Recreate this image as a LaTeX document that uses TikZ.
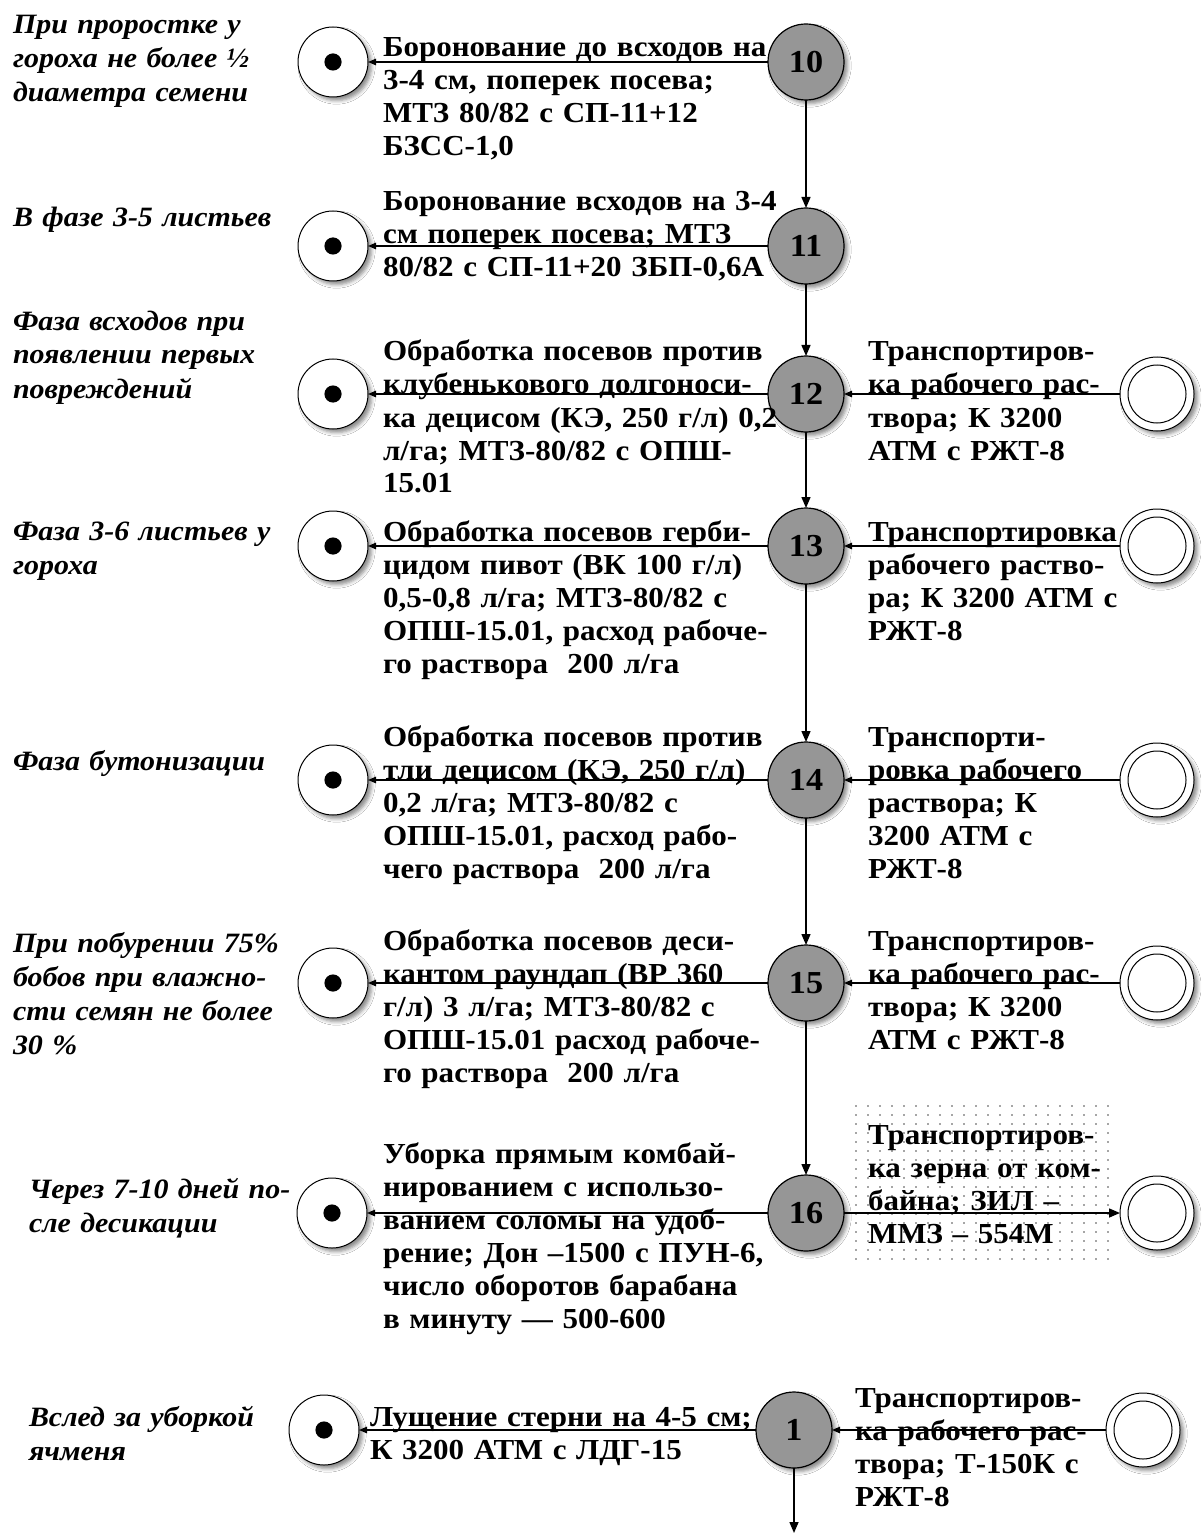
\documentclass[tikz,border=0pt]{standalone}
\usepackage{fontspec}
\setmainfont{Liberation Serif}[FakeStretch=1.07]
\usetikzlibrary{arrows.meta,shadows.blur}
\definecolor{stagegrey}{RGB}{150,150,150}
\newcommand\tasktext{\bfseries\fontsize{14.5}{16.5}\selectfont\spaceskip=2.6pt\relax}
\newcommand\condtext{\bfseries\itshape\fontsize{14}{17}\selectfont\spaceskip=2.8pt\relax}
\begin{document}
\begin{tikzpicture}[x=0.5pt,y=-0.5pt,
  every node/.style={inner sep=0pt,outer sep=0pt},
  softshadow/.style={blur shadow={shadow xshift=1.8pt,shadow yshift=-1.8pt,shadow blur radius=1.8pt,shadow opacity=45}},
  stage/.style={circle,draw=black,line width=0.6pt,fill=stagegrey,minimum size=38pt,softshadow,
    font=\bfseries\fontsize{16}{16}\selectfont},
  sink/.style={circle,draw=black,line width=0.5pt,fill=white,minimum size=35pt,softshadow,
    path picture={\fill[black] (path picture bounding box.center) circle (4.3pt);}},
  source/.style={circle,draw=black,line width=0.5pt,fill=white,minimum size=37pt,softshadow,
    path picture={\draw[line width=0.5pt] (path picture bounding box.center) circle (14.5pt);}},
  task/.style={anchor=base west,text width=260pt,align=left,font=\tasktext},
  cond/.style={anchor=base west,text width=260pt,align=left,font=\condtext},
  flow/.style={line width=0.7pt,-{Triangle[length=5.5pt,width=4.5pt]}},
  back/.style={line width=0.7pt,-{Triangle[length=4pt,width=3.2pt]}},
]
\fill[white] (0,0) rectangle (1201,1535);
\useasboundingbox (0,0) rectangle (1201,1535);

% dotted background behind the grain transport note
\foreach \i in {0,...,21}
  \foreach \j in {0,...,17}
    \fill[black!70] ({856+\i*12},{1106+\j*9}) circle (0.45pt);

% stage circles on the main line
\node[stage] (g10) at (806,62)   {10};
\node[stage] (g11) at (806,246)  {11};
\node[stage] (g12) at (806,394)  {12};
\node[stage] (g13) at (806,546)  {13};
\node[stage] (g14) at (806,780)  {14};
\node[stage] (g15) at (806,983)  {15};
\node[stage] (g16) at (806,1213) {16};
\node[stage] (g1)  at (794,1430) {1};
\coordinate (gend) at (794,1533);

% finished-operation circles on the left
\node[sink] (w10) at (333,62)   {};
\node[sink] (w11) at (333,246)  {};
\node[sink] (w12) at (333,394)  {};
\node[sink] (w13) at (333,546)  {};
\node[sink] (w14) at (333,780)  {};
\node[sink] (w15) at (333,983)  {};
\node[sink] (w16) at (332,1213) {};
\node[sink] (w1)  at (324,1430) {};

% transport circles on the right
\node[source] (d12) at (1157,394)  {};
\node[source] (d13) at (1157,546)  {};
\node[source] (d14) at (1157,780)  {};
\node[source] (d15) at (1157,983)  {};
\node[source] (d16) at (1157,1213) {};
\node[source] (d1)  at (1143,1430) {};

% timing conditions
\node[cond] (c10) at (13,34)   {При проростке у\\гороха не более ½\\диаметра семени};
\node[cond] (c11) at (13,227)  {В фазе 3-5 листьев};
\node[cond] (c12) at (13,330)  {Фаза всходов при\\появлении первых\\повреждений};
\node[cond] (c13) at (13,540)  {Фаза 3-6 листьев у\\гороха};
\node[cond] (c14) at (13,770)  {Фаза бутонизации};
\node[cond] (c15) at (13,952)  {При побурении 75\%\\бобов при влажно-\\сти семян не более\\30 \%};
\node[cond] (c16) at (29,1198) {Через 7-10 дней по-\\сле десикации};
\node[cond] (c1)  at (29,1426) {Вслед за уборкой\\ячменя};

% field operations
\node[task] (t10) at (383,57)   {Боронование до всходов на\\3-4 см, поперек посева;\\МТЗ 80/82 с СП-11+12\\БЗСС-1,0};
\node[task] (t11) at (383,211)  {Боронование всходов на 3-4\\см поперек посева; МТЗ\\80/82 с СП-11+20 ЗБП-0,6А};
\node[task] (t12) at (383,361)  {Обработка посевов против\\клубенькового долгоноси-\\ка децисом (КЭ, 250 г/л) 0,2\\л/га; МТЗ-80/82 с ОПШ-\\15.01};
\node[task] (t13) at (383,541)  {Обработка посевов герби-\\цидом пивот (ВК 100 г/л)\\0,5-0,8 л/га; МТЗ-80/82 с\\ОПШ-15.01, расход рабоче-\\го раствора~ 200 л/га};
\node[task] (t14) at (383,746)  {Обработка посевов против\\тли децисом (КЭ, 250 г/л)\\0,2 л/га; МТЗ-80/82 с\\ОПШ-15.01, расход рабо-\\чего раствора~ 200 л/га};
\node[task] (t15) at (383,950)  {Обработка посевов деси-\\кантом раундап (ВР 360\\г/л) 3 л/га; МТЗ-80/82 с\\ОПШ-15.01 расход рабоче-\\го раствора~ 200 л/га};
\node[task] (t16) at (383,1163) {Уборка прямым комбай-\\нированием с использо-\\ванием соломы на удоб-\\рение; Дон –1500 с ПУН-6,\\число оборотов барабана\\в минуту — 500-600};
\node[task] (t1)  at (370,1426) {Лущение стерни на 4-5 см;\\К 3200 АТМ с ЛДГ-15};

% transport notes
\node[task] (r12) at (868,361)  {Транспортиров-\\ка рабочего рас-\\твора; К 3200\\АТМ с РЖТ-8};
\node[task] (r13) at (868,541)  {Транспортировка\\рабочего раство-\\ра; К 3200 АТМ с\\РЖТ-8};
\node[task] (r14) at (868,746)  {Транспорти-\\ровка рабочего\\раствора; К\\3200 АТМ с\\РЖТ-8};
\node[task] (r15) at (868,950)  {Транспортиров-\\ка рабочего рас-\\твора; К 3200\\АТМ с РЖТ-8};
\node[task] (r16) at (868,1144) {Транспортиров-\\ка зерна от ком-\\байна; ЗИЛ –\\ММЗ – 554М};
\node[task] (r1)  at (855,1407) {Транспортиров-\\ка рабочего рас-\\твора; Т-150К с\\РЖТ-8};

% main sequence
\draw[flow] (g10) -- (g11);
\draw[flow] (g11) -- (g12);
\draw[flow] (g12) -- (g13);
\draw[flow] (g13) -- (g14);
\draw[flow] (g14) -- (g15);
\draw[flow] (g15) -- (g16);
\draw[flow] (g1) -- (gend);

% operations leading to the left circles
\foreach \n in {10,11,12,13,14,15,16,1}
  \draw[back] (g\n) -- (w\n);

% transport links
\foreach \n in {12,13,14,15,1}
  \draw[back] (d\n) -- (g\n);
\draw[flow] (g16) -- (d16);
\end{tikzpicture}
\end{document}
